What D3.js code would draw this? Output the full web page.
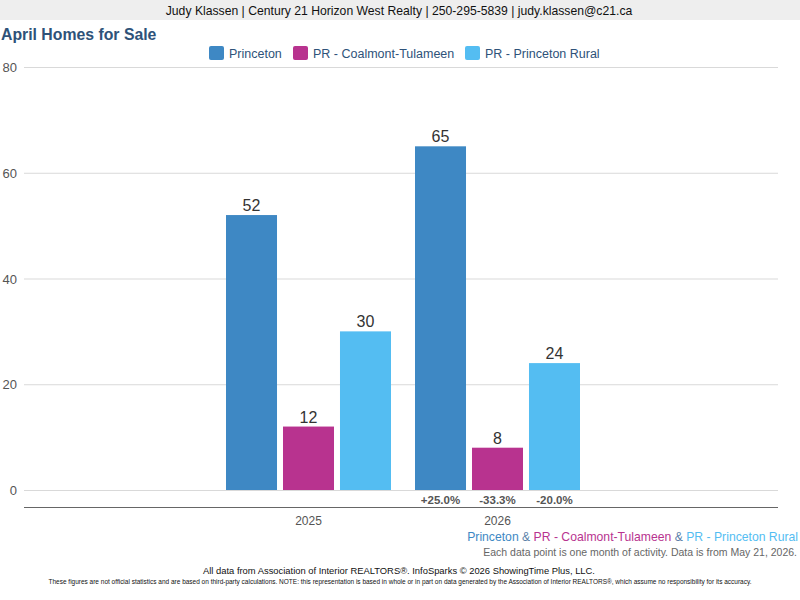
<!DOCTYPE html>
<html><head><meta charset="utf-8">
<script src="https://cdn.jsdelivr.net/npm/d3@7"></script>
<style>body{margin:0;background:#fff}svg{display:block}</style>
</head><body>
<svg id="c" width="800" height="600"></svg>
<script>
const categories = ["2025", "2026"];
const seriesNames = ["Princeton", "PR - Coalmont-Tulameen", "PR - Princeton Rural"];
const princeton = [52, 65];
const coalmont = [12, 8];
const rural = [30, 24];
const pctChange = ["+25.0%", "-33.3%", "-20.0%"];
const yTicks = [0, 20, 40, 60, 80];
const colors = ["#3e88c4", "#b8338f", "#54bdf2"];
const seriesValues = [princeton, coalmont, rural];

const svg = d3.select("#c");
const F = "'Liberation Sans', Arial, sans-serif";
const FN = "'Liberation Sans Narrow', 'Arial Narrow', 'Liberation Sans', sans-serif";

// header
svg.append("rect").attr("x",0).attr("y",0).attr("width",800).attr("height",20).attr("fill","#eeeeee");
svg.append("text").attr("x",399).attr("y",15).attr("text-anchor","middle")
  .attr("font-family",FN).attr("font-size",12.2).attr("fill","#111")
  .text("Judy Klassen | Century 21 Horizon West Realty | 250-295-5839 | judy.klassen@c21.ca");

svg.append("text").attr("x",1).attr("y",40).attr("font-family",FN).attr("font-weight","bold")
  .attr("font-size",15.8).attr("fill","#2e5279").text("April Homes for Sale");

// legend
const legX = [209, 293, 465];
seriesNames.forEach((s,i)=>{
  svg.append("rect").attr("x",legX[i]).attr("y",46).attr("width",15).attr("height",14).attr("rx",2)
    .attr("fill",colors[i]);
  svg.append("text").attr("x",legX[i]+20).attr("y",58).attr("font-family",F).attr("font-size",12.5)
    .attr("fill","#2e5279").text(s);
});

const y = d3.scaleLinear().domain([0,80]).range([490,67]);
const x0 = d3.scaleBand().domain(categories).range([214, 592]).padding(0);
const x1 = d3.scaleBand().domain(seriesNames).range([12, 177]).paddingInner(0.105).paddingOuter(0);

// grid
const grid = svg.append("g").attr("transform","translate(24,0)")
  .call(d3.axisLeft(y).tickValues(yTicks).tickSize(-754).tickFormat(""));
grid.select(".domain").remove();
grid.selectAll("line").attr("stroke","#d9d9d9");

// y labels
svg.selectAll(".yl").data(yTicks).join("text").attr("class","yl")
  .attr("x",17).attr("y",d=>y(d)+5).attr("text-anchor","end")
  .attr("font-family",F).attr("font-size",13).attr("fill","#555").text(d=>d);

// axis line
svg.append("line").attr("x1",24).attr("x2",778).attr("y1",507.5).attr("y2",507.5)
  .attr("stroke","#666").attr("stroke-width",1);

// bars
categories.forEach((c,ci)=>{
  seriesNames.forEach((s,si)=>{
    const v = seriesValues[si][ci];
    const bx = x0(c) + x1(s);
    svg.append("rect").attr("x",bx).attr("y",y(v)).attr("width",x1.bandwidth())
      .attr("height",y(0)-y(v)).attr("fill",colors[si]);
    svg.append("text").attr("x",bx+x1.bandwidth()/2).attr("y",y(v)-4).attr("text-anchor","middle")
      .attr("font-family",F).attr("font-size",16).attr("fill","#333").text(v);
    if (ci === categories.length-1) {
      svg.append("text").attr("x",bx+x1.bandwidth()/2).attr("y",504).attr("text-anchor","middle")
        .attr("font-family",F).attr("font-size",11.5).attr("font-weight","bold").attr("fill","#555")
        .text(pctChange[si]);
    }
  });
  svg.append("text").attr("x",x0(c)+x0.bandwidth()/2).attr("y",525).attr("text-anchor","middle")
    .attr("font-family",F).attr("font-size",12).attr("fill","#555").text(c);
});

// bottom series line
const bl = svg.append("text").attr("x",798).attr("y",541).attr("text-anchor","end")
  .attr("font-family",F).attr("font-size",12.2);
seriesNames.forEach((s,i)=>{
  if(i>0) bl.append("tspan").attr("fill","#5a7fa8").text(" & ");
  bl.append("tspan").attr("fill",colors[i]).text(s);
});
svg.append("text").attr("x",797).attr("y",556).attr("text-anchor","end")
  .attr("font-family",F).attr("font-size",10.5).attr("fill","#666")
  .text("Each data point is one month of activity. Data is from May 21, 2026.");

svg.append("text").attr("x",399).attr("y",574).attr("text-anchor","middle")
  .attr("font-family",F).attr("font-size",9.4).attr("fill","#111")
  .text("All data from Association of Interior REALTORS®. InfoSparks © 2026 ShowingTime Plus, LLC.");
svg.append("text").attr("x",400).attr("y",584).attr("text-anchor","middle")
  .attr("font-family",F).attr("font-size",6.5).attr("fill","#111")
  .attr("textLength",703).attr("lengthAdjust","spacingAndGlyphs")
  .text("These figures are not official statistics and are based on third-party calculations. NOTE: this representation is based in whole or in part on data generated by the Association of Interior REALTORS®, which assume no responsibility for its accuracy.");
</script>
</body></html>
